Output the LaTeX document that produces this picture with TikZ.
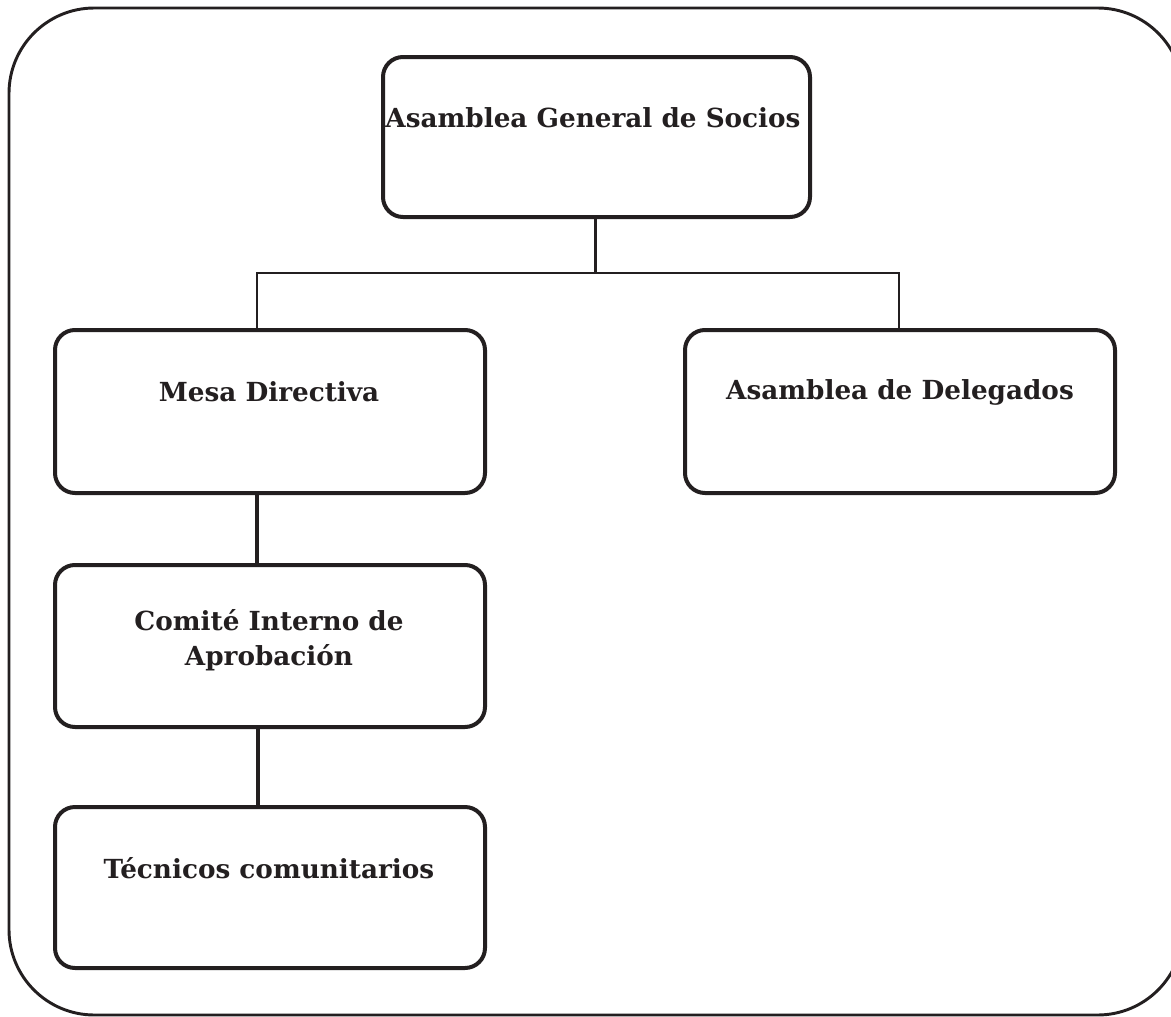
\documentclass[tikz,border=0pt]{standalone}
\usepackage{fontspec}
\setmainfont{DejaVu Serif}
\definecolor{ink}{HTML}{231F20}
\begin{document}
\begin{tikzpicture}[x=0.75pt,y=-0.75pt,
  box/.style={draw=ink,line width=3pt,rounded corners=15pt,inner sep=0pt},
  lbl/.style={text=ink,font=\bfseries\fontsize{19.7}{26}\selectfont,align=center,inner sep=0pt},
  conn/.style={draw=ink,line width=2.2pt},
  connb/.style={draw=ink,line width=3pt}]
\useasboundingbox (0,0) rectangle (1171,1017);
\begin{scope}
\clip (0,0) rectangle (1171,1017);
\draw[ink,line width=2.2pt,rounded corners=64pt] (9,8) rectangle (1183,1015);
\end{scope}
\node[box,minimum width=320.25pt,minimum height=120pt] (top) at (596.5,137) {};
\node[box,minimum width=322.5pt,minimum height=122.25pt] (mesa) at (270,411.5) {};
\node[box,minimum width=322.5pt,minimum height=122.25pt] (deleg) at (900,411.5) {};
\node[box,minimum width=322.5pt,minimum height=121.5pt] (comite) at (270,646) {};
\node[box,minimum width=322.5pt,minimum height=120.75pt] (tecn) at (270,887.5) {};
\node[lbl] (ttop) at (593,118) {Asamblea General de Socios};
\node[lbl] (tmesa) at (269,392) {Mesa Directiva};
\node[lbl] (tdeleg) at (900,392) {Asamblea de Delegados};
\node[lbl] (tcomite) at (269,640) {Comité Interno de\\Aprobación};
\node[lbl] (ttecn) at (269,868) {Técnicos comunitarios};
\coordinate (j) at (595,273);
\draw[conn] ([xshift=-1.1pt]top.south) -- ([xshift=-1.1pt]top.south |- j);
\draw[conn] ([xshift=-9.75pt]mesa.north) |- (j) -| ([xshift=-0.75pt]deleg.north);
\draw[connb] ([xshift=-9.75pt]mesa.south) -- ([xshift=-9.75pt]comite.north);
\draw[connb] ([xshift=-9pt]comite.south) -- ([xshift=-9pt]tecn.north);
\end{tikzpicture}
\end{document}
